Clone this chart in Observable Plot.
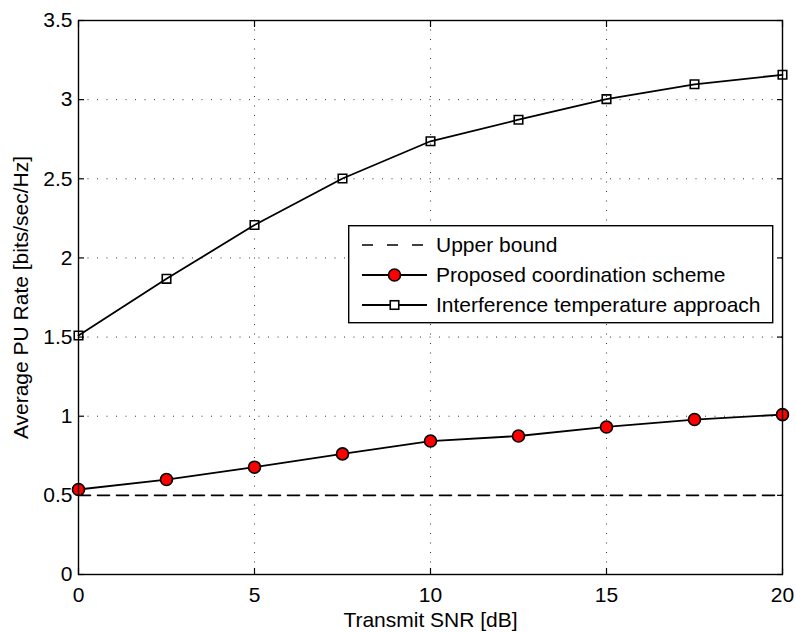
<!DOCTYPE html>
<html>
<head>
<meta charset="utf-8">
<script src="https://cdn.jsdelivr.net/npm/d3@7"></script>
<script src="https://cdn.jsdelivr.net/npm/@observablehq/plot@0.6"></script>
<style>
  body { margin: 0; background: #fff; }
  #wrap { position: relative; width: 796px; height: 633px; font-family: "Liberation Sans", Arial, Helvetica, sans-serif; }
  #legend { position: absolute; left: 348px; top: 225px; }
</style>
</head>
<body>
<div id="wrap"></div>
<script>
// ---- data ----
const snr = [0, 2.5, 5, 7.5, 10, 12.5, 15, 17.5, 20];
const upperBound = [0.5, 0.5, 0.5, 0.5, 0.5, 0.5, 0.5, 0.5, 0.5];
const proposed = [0.537, 0.600, 0.678, 0.762, 0.843, 0.875, 0.932, 0.979, 1.010];
const interference = [1.510, 1.868, 2.208, 2.502, 2.737, 2.873, 3.003, 3.097, 3.157];
const xTicks = [0, 5, 10, 15, 20];
const yTicks = [0, 0.5, 1, 1.5, 2, 2.5, 3, 3.5];
const seriesNames = ["Upper bound", "Proposed coordination scheme", "Interference temperature approach"];
const xLabel = "Transmit SNR [dB]";
const yLabel = "Average PU Rate [bits/sec/Hz]";

const ub = snr.map((x, i) => ({x, y: upperBound[i]}));
const pr = snr.map((x, i) => ({x, y: proposed[i]}));
const it = snr.map((x, i) => ({x, y: interference[i]}));

const FONT = 21;
const fmt = d => String(d);

const chart = Plot.plot({
  width: 796,
  height: 633,
  marginLeft: 78,
  marginRight: 14,
  marginTop: 20,
  marginBottom: 59,
  style: { fontFamily: '"Liberation Sans", Arial, Helvetica, sans-serif', fontSize: FONT + "px", background: "#fff", color: "#000" },
  x: { domain: [0, 20] },
  y: { domain: [0, 3.5] },
  marks: [
    Plot.gridX(xTicks, { stroke: "#000", strokeOpacity: 0.8, strokeWidth: 1, strokeDasharray: "1,8.5" }),
    Plot.gridY(yTicks, { stroke: "#000", strokeOpacity: 0.8, strokeWidth: 1, strokeDasharray: "1,8.5" }),
    Plot.axisX(xTicks, { anchor: "bottom", tickSize: -6, tickPadding: 19, tickFormat: fmt, label: null, fontSize: FONT, strokeWidth: 1.2 }),
    Plot.axisX(xTicks, { anchor: "top", tickSize: -6, tickFormat: () => "", label: null, strokeWidth: 1.2 }),
    Plot.axisY(yTicks, { anchor: "left", tickSize: -6, tickPadding: 12, tickFormat: fmt, label: null, fontSize: FONT, strokeWidth: 1.2 }),
    Plot.axisY(yTicks, { anchor: "right", tickSize: -6, tickFormat: () => "", label: null, strokeWidth: 1.2 }),
    Plot.line(ub, { x: "x", y: "y", stroke: "#000", strokeWidth: 1.6, strokeDasharray: "12,7" }),
    Plot.line(pr, { x: "x", y: "y", stroke: "#000", strokeWidth: 1.8 }),
    Plot.line(it, { x: "x", y: "y", stroke: "#000", strokeWidth: 1.8 }),
    Plot.dot(pr, { x: "x", y: "y", r: 6, fill: "#ff0000", stroke: "#000", strokeWidth: 1.6 }),
    Plot.dot(it, { x: "x", y: "y", r: 4.8, symbol: "square", fill: "none", stroke: "#000", strokeWidth: 1.6 }),
    Plot.frame({ stroke: "#000", strokeWidth: 1.4 }),
    Plot.text([xLabel], { frameAnchor: "bottom", text: d => d, dy: 52, textAnchor: "middle", lineAnchor: "bottom", fontSize: FONT, fill: "#000" }),
    Plot.text([yLabel], { frameAnchor: "left", text: d => d, rotate: -90, dx: -51, textAnchor: "middle", lineAnchor: "bottom", fontSize: FONT, fill: "#000" })
  ]
});

const wrap = document.getElementById("wrap");
wrap.appendChild(chart);

// ---- legend (inside the axes, MATLAB style) ----
const L = d3.select(wrap).append("svg")
  .attr("id", "legend")
  .attr("width", 426).attr("height", 100)
  .style("font-family", '"Liberation Sans", Arial, Helvetica, sans-serif');
L.append("rect").attr("x", 0.7).attr("y", 0.7).attr("width", 424).attr("height", 97)
  .attr("fill", "#fff").attr("stroke", "#000").attr("stroke-width", 1.4);
const rowsY = [20, 50, 80];
const x0 = 14, x1 = 79, xm = (x0 + x1) / 2, xt = 88;
// row 1: dashed
L.append("line").attr("x1", x0).attr("x2", x1).attr("y1", rowsY[0]).attr("y2", rowsY[0])
  .attr("stroke", "#000").attr("stroke-width", 1.6).attr("stroke-dasharray", "11,14");
// row 2: line + red circle
L.append("line").attr("x1", x0).attr("x2", x1).attr("y1", rowsY[1]).attr("y2", rowsY[1])
  .attr("stroke", "#000").attr("stroke-width", 1.8);
L.append("circle").attr("cx", xm).attr("cy", rowsY[1]).attr("r", 6)
  .attr("fill", "#ff0000").attr("stroke", "#000").attr("stroke-width", 1.6);
// row 3: line + square
L.append("line").attr("x1", x0).attr("x2", x1).attr("y1", rowsY[2]).attr("y2", rowsY[2])
  .attr("stroke", "#000").attr("stroke-width", 1.8);
L.append("rect").attr("x", xm - 4.25).attr("y", rowsY[2] - 4.25).attr("width", 8.5).attr("height", 8.5)
  .attr("fill", "#fff").attr("stroke", "#000").attr("stroke-width", 1.6);
seriesNames.forEach((s, i) => {
  L.append("text").attr("x", xt).attr("y", rowsY[i]).attr("dy", "0.35em")
    .attr("font-size", FONT).attr("fill", "#000").text(s);
});
</script>
</body>
</html>
